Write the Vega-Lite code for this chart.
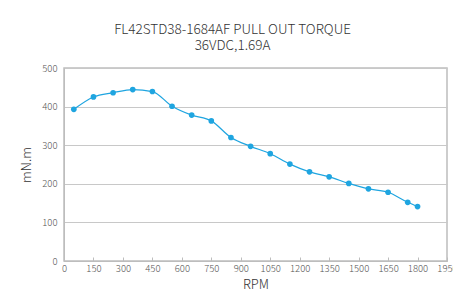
{
  "$schema": "https://vega.github.io/schema/vega-lite/v6.json",
  "width": 383,
  "height": 193,
  "autosize": {"type": "none"},
  "padding": {"left": 64, "top": 68, "right": 6, "bottom": 46},
  "background": "white",
  "title": {
    "text": "FL42STD38-1684AF PULL OUT TORQUE",
    "subtitle": "36VDC,1.69A",
    "font": "Noto Sans CJK SC",
    "fontSize": 13.5,
    "fontWeight": 300,
    "color": "#333333",
    "subtitleFont": "Noto Sans CJK SC",
    "subtitleFontSize": 13.5,
    "subtitleFontWeight": 300,
    "subtitleColor": "#333333",
    "subtitlePadding": 2,
    "anchor": "middle",
    "dx": -23,
    "offset": 11
  },
  "config": {
    "view": {"stroke": "#bdbdbd", "strokeWidth": 1.5},
    "axis": {
      "labelFont": "Noto Sans CJK SC",
      "labelFontSize": 9.5,
      "labelFontWeight": 300,
      "labelColor": "#555555",
      "titleFont": "Noto Sans CJK SC",
      "titleFontSize": 13,
      "titleFontWeight": 300,
      "titleColor": "#333333",
      "domainColor": "#bdbdbd",
      "gridColor": "#c8c8c8",
      "gridWidth": 1.2
    }
  },
  "data": {
    "values": [
      {"rpm": 50, "torque": 393},
      {"rpm": 150, "torque": 425},
      {"rpm": 250, "torque": 436},
      {"rpm": 350, "torque": 444},
      {"rpm": 450, "torque": 439},
      {"rpm": 550, "torque": 401},
      {"rpm": 650, "torque": 378},
      {"rpm": 750, "torque": 363},
      {"rpm": 850, "torque": 320},
      {"rpm": 950, "torque": 297},
      {"rpm": 1050, "torque": 278},
      {"rpm": 1150, "torque": 251},
      {"rpm": 1250, "torque": 231},
      {"rpm": 1350, "torque": 218},
      {"rpm": 1450, "torque": 201},
      {"rpm": 1550, "torque": 187},
      {"rpm": 1650, "torque": 178},
      {"rpm": 1750, "torque": 152},
      {"rpm": 1800, "torque": 141}
    ]
  },
  "encoding": {
    "x": {
      "field": "rpm",
      "type": "quantitative",
      "title": "RPM",
      "scale": {"domain": [0, 1950], "nice": false, "zero": true},
      "axis": {
        "values": [0, 150, 300, 450, 600, 750, 900, 1050, 1200, 1350, 1500, 1650, 1800, 1950],
        "format": "d",
        "grid": false,
        "tickSize": -4,
        "tickColor": "#bdbdbd",
        "labelPadding": 6,
        "labelFlush": false,
        "labelOverlap": false,
        "titlePadding": 6
      }
    },
    "y": {
      "field": "torque",
      "type": "quantitative",
      "title": "mN.m",
      "scale": {"domain": [0, 500], "nice": false},
      "axis": {
        "values": [0, 100, 200, 300, 400, 500],
        "format": "d",
        "ticks": false,
        "labelPadding": 7,
        "titlePadding": 8,
        "domainColor": "#bdbdbd"
      }
    }
  },
  "layer": [
    {
      "mark": {"type": "line", "color": "#1fa5e0", "strokeWidth": 1.2, "interpolate": "monotone"}
    },
    {
      "mark": {"type": "point", "filled": true, "color": "#1fa5e0", "opacity": 1, "size": 32}
    }
  ]
}
